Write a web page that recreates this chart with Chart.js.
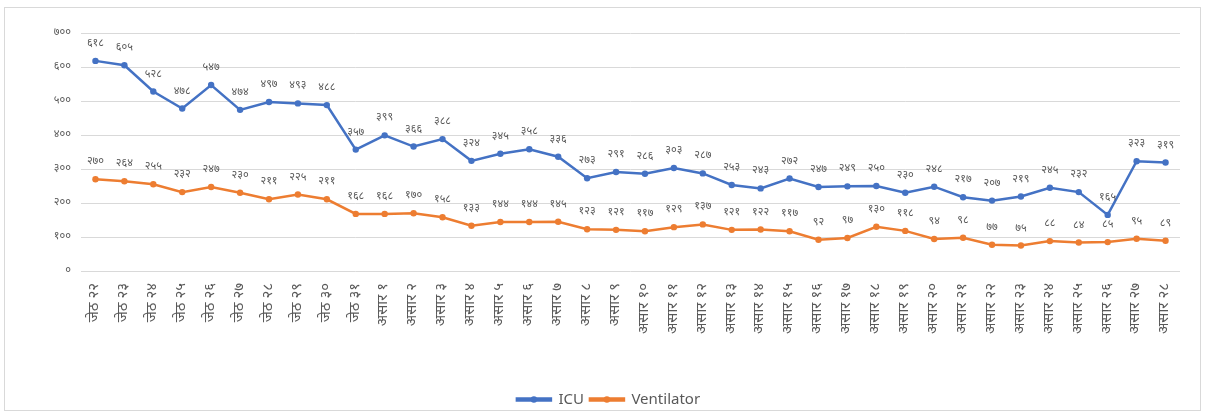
<!DOCTYPE html>
<html>
<head>
<meta charset="utf-8">
<script src="https://cdn.jsdelivr.net/npm/chart.js@4.4.1/dist/chart.umd.min.js"></script>
<style>
  html, body { margin: 0; padding: 0; background: #ffffff; }
  #frame { position: absolute; left: 4px; top: 7px; width: 1195px; height: 402px; border: 1px solid #d9d9d9; background: #fff; }
  canvas { display: block; }
</style>
</head>
<body>
<div id="frame"><canvas id="c" width="1195" height="402"></canvas></div>
<script>
const categories = [
  "जेठ २२","जेठ २३","जेठ २४","जेठ २५","जेठ २६","जेठ २७","जेठ २८","जेठ २९","जेठ ३०","जेठ ३१",
  "असार १","असार २","असार ३","असार ४","असार ५","असार ६","असार ७","असार ८","असार ९","असार १०",
  "असार ११","असार १२","असार १३","असार १४","असार १५","असार १६","असार १७","असार १८","असार १९","असार २०",
  "असार २१","असार २२","असार २३","असार २४","असार २५","असार २६","असार २७","असार २८"
];
const icuValues = [
  618, 605, 528, 478, 547, 474, 497, 493, 488, 357,
  399, 366, 388, 324, 345, 358, 336, 273, 291, 286,
  303, 287, 253, 243, 272, 247, 249, 250, 230, 248,
  217, 207, 219, 245, 232, 165, 323, 319
];
const ventilatorValues = [
  270, 264, 255, 232, 247, 230, 211, 225, 211, 168,
  168, 170, 158, 133, 144, 144, 145, 123, 121, 117,
  129, 137, 121, 122, 117, 92, 97, 130, 118, 94,
  98, 77, 75, 88, 84, 85, 95, 89
];
const yTicks = [0, 100, 200, 300, 400, 500, 600, 700];
const seriesNames = ["ICU", "Ventilator"];
const seriesColors = ["#4472C4", "#ED7D31"];

const devDigits = "०१२३४५६७८९";
function toDev(n) { return String(n).replace(/[0-9]/g, d => devDigits[+d]); }

const FONT = "'Noto Sans Devanagari','Lohit Devanagari','Noto Sans','DejaVu Sans',sans-serif";
const LEGEND_SHIFT = 16;

const dataLabelPlugin = {
  id: 'dataLabels',
  afterDatasetsDraw(chart) {
    const ctx = chart.ctx;
    ctx.save();
    ctx.font = "11px " + FONT;
    ctx.fillStyle = "#595959";
    ctx.textAlign = "center";
    ctx.textBaseline = "middle";
    chart.data.datasets.forEach((ds, i) => {
      const meta = chart.getDatasetMeta(i);
      meta.data.forEach((pt, j) => {
        ctx.fillText(toDev(ds.data[j]), pt.x, pt.y - 17);
      });
    });
    ctx.restore();
  }
};

const legendShiftPlugin = {
  id: 'legendShift',
  afterLayout(chart) { chart.$legendShifted = false; },
  beforeDraw(chart) {
    const lg = chart.legend;
    if (lg && !chart.$legendShifted) {
      lg.left += LEGEND_SHIFT;
      lg.right += LEGEND_SHIFT;
      chart.$legendShifted = true;
    }
  },
  afterDraw(chart) {
    const lg = chart.legend;
    if (!lg || !lg.legendHitBoxes) return;
    const ctx = chart.ctx;
    ctx.save();
    lg.legendHitBoxes.forEach((box, i) => {
      const bw = lg.options.labels.boxWidth;
      const cx = box.left + LEGEND_SHIFT + bw / 2;
      const cy = box.top + box.height / 2;
      ctx.fillStyle = seriesColors[i];
      ctx.beginPath();
      ctx.arc(cx, cy, 3.2, 0, Math.PI * 2);
      ctx.fill();
    });
    ctx.restore();
  }
};

new Chart(document.getElementById('c'), {
  type: 'line',
  data: {
    labels: categories,
    datasets: [
      { label: seriesNames[0], data: icuValues, borderColor: seriesColors[0], backgroundColor: seriesColors[0],
        borderWidth: 2.5, pointRadius: 3.2, pointBackgroundColor: seriesColors[0], pointBorderWidth: 0, tension: 0 },
      { label: seriesNames[1], data: ventilatorValues, borderColor: seriesColors[1], backgroundColor: seriesColors[1],
        borderWidth: 2.5, pointRadius: 3.2, pointBackgroundColor: seriesColors[1], pointBorderWidth: 0, tension: 0 }
    ]
  },
  options: {
    responsive: false,
    animation: false,
    devicePixelRatio: 1,
    layout: { padding: { left: 0, right: 20, top: 25, bottom: -7 } },
    scales: {
      x: {
        offset: true,
        grid: { display: false },
        border: { display: false },
        ticks: { autoSkip: false, minRotation: 90, maxRotation: 90, color: "#595959", font: { family: FONT, size: 15 }, padding: 4 },
        afterFit(scale) { scale.height = 115; }
      },
      y: {
        min: 0, max: 700,
        afterBuildTicks(scale) { scale.ticks = yTicks.map(v => ({ value: v })); },
        grid: { color: "#d9d9d9", lineWidth: 1, drawTicks: false },
        border: { display: false },
        ticks: { color: "#595959", font: { family: FONT, size: 11 }, padding: 10, callback: v => toDev(v) },
        afterFit(scale) { scale.width = 76; }
      }
    },
    plugins: {
      legend: {
        position: 'bottom',
        labels: { boxWidth: 34, boxHeight: 2, color: "#595959", font: { family: "'Noto Sans',sans-serif", size: 15 }, padding: 6 }
      },
      tooltip: { enabled: false }
    }
  },
  plugins: [dataLabelPlugin, legendShiftPlugin]
});
</script>
</body>
</html>
